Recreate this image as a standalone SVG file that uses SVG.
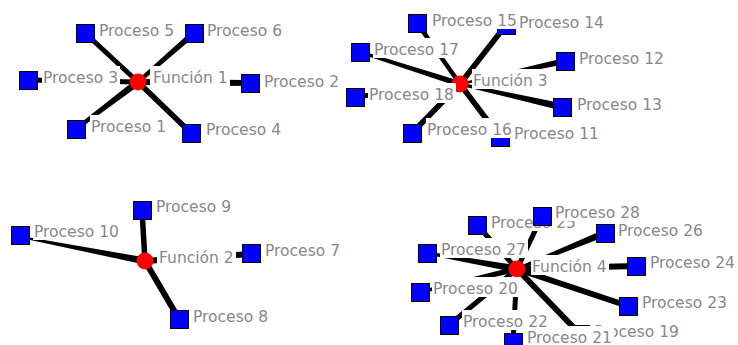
<svg xmlns="http://www.w3.org/2000/svg" width="738" height="345" viewBox="0 0 738 345">
<style>
.sq{fill:#0000ff;stroke:#000;stroke-width:1}
.fn{fill:#ff0000}
.bg{fill:#fff}
.lb{font-family:'DejaVu Sans','Noto Sans',sans-serif;font-size:15.5px;fill:#888}
.e{stroke:#000;fill:none;stroke-linecap:butt}
.w{fill:#000}
</style>
<rect width="738" height="345" fill="#fff"/>
<g id="connectors">
<line class="e" x1="138" y1="82" x2="85" y2="33" stroke-width="5"/>
<polygon class="w" points="139.32,83.51 195.98,35.26 192.02,30.74 136.68,80.49"/>
<line class="e" x1="138" y1="82" x2="28" y2="80" stroke-width="5"/>
<line class="e" x1="138" y1="82" x2="250" y2="83" stroke-width="6"/>
<polygon class="w" points="135.89,79.21 74.79,127.41 77.21,130.59 140.11,84.79"/>
<line class="e" x1="138" y1="82" x2="191" y2="133" stroke-width="5.5"/>
<line class="e" x1="460" y1="84" x2="417" y2="23" stroke-width="4.5"/>
<line class="e" x1="460" y1="84" x2="506" y2="25" stroke-width="5.5"/>
<polygon class="w" points="460.91,81.14 360.46,50.57 359.54,53.43 459.09,86.86"/>
<line class="e" x1="460" y1="84" x2="355" y2="97" stroke-width="5"/>
<line class="e" x1="460" y1="84" x2="412" y2="133" stroke-width="5.5"/>
<line class="e" x1="460" y1="84" x2="500" y2="137" stroke-width="5.5"/>
<polygon class="w" points="460.21,84.98 565.64,63.93 564.36,58.07 459.79,83.02"/>
<polygon class="w" points="459.67,85.46 561.23,110.41 562.77,103.59 460.33,82.54"/>
<line class="e" x1="145" y1="261" x2="142" y2="210" stroke-width="5.5"/>
<polygon class="w" points="145.67,257.56 21.19,236.02 20.81,237.98 144.34,264.44"/>
<line class="e" x1="145" y1="261" x2="251" y2="254" stroke-width="6"/>
<line class="e" x1="145" y1="261" x2="179" y2="319" stroke-width="6"/>
<line class="e" x1="517" y1="269" x2="477" y2="225" stroke-width="5"/>
<line class="e" x1="517" y1="269" x2="542" y2="216" stroke-width="5"/>
<polygon class="w" points="517.57,270.39 606.33,236.24 603.68,229.76 516.43,267.61"/>
<polygon class="w" points="517.61,265.55 427.26,251.52 426.74,254.48 516.39,272.45"/>
<line class="e" x1="517" y1="269" x2="636" y2="266" stroke-width="6"/>
<polygon class="w" points="516.31,266.08 419.65,290.54 420.35,293.46 517.69,271.92"/>
<line class="e" x1="517" y1="269" x2="628" y2="306" stroke-width="6"/>
<line class="e" x1="517" y1="269" x2="449" y2="325" stroke-width="5"/>
<line class="e" x1="517" y1="269" x2="513" y2="342" stroke-width="5"/>
<line class="e" x1="517" y1="269" x2="580" y2="334" stroke-width="6"/>
</g>
<g id="funcion1"><circle class="fn" cx="138" cy="82" r="8.5"/><rect class="bg" x="150" y="66" width="80" height="20"/><text class="lb" x="153" y="83">Función 1</text></g>
<g id="funcion2"><circle class="fn" cx="145" cy="261" r="8.5"/><rect class="bg" x="157" y="246" width="79" height="20"/><text class="lb" x="159" y="263">Función 2</text></g>
<g id="funcion3"><circle class="fn" cx="460" cy="84" r="8.5"/><rect class="bg" x="472" y="69" width="78" height="20"/><text class="lb" x="473" y="86">Función 3</text></g>
<g id="funcion4"><circle class="fn" cx="517" cy="269" r="8.5"/><rect class="bg" x="531" y="255" width="78" height="20"/><text class="lb" x="532" y="272">Función 4</text></g>
<g id="proceso1"><rect class="sq" x="67.5" y="120.5" width="18" height="18"/><rect class="bg" x="90" y="115" width="78" height="20"/><text class="lb" x="91" y="132">Proceso 1</text></g>
<g id="proceso2"><rect class="sq" x="241.5" y="74.5" width="18" height="18"/><rect class="bg" x="263" y="70" width="78" height="20"/><text class="lb" x="264" y="87">Proceso 2</text></g>
<g id="proceso3"><rect class="sq" x="19.5" y="71.5" width="18" height="18"/><rect class="bg" x="42" y="66" width="78" height="20"/><text class="lb" x="43" y="83">Proceso 3</text></g>
<g id="proceso4"><rect class="sq" x="182.5" y="124.5" width="18" height="18"/><rect class="bg" x="205" y="118" width="78" height="20"/><text class="lb" x="206" y="135">Proceso 4</text></g>
<g id="proceso5"><rect class="sq" x="76.5" y="24.5" width="18" height="18"/><rect class="bg" x="98" y="19" width="78" height="20"/><text class="lb" x="99" y="36">Proceso 5</text></g>
<g id="proceso6"><rect class="sq" x="185.5" y="24.5" width="18" height="18"/><rect class="bg" x="206" y="19" width="78" height="20"/><text class="lb" x="207" y="36">Proceso 6</text></g>
<g id="proceso7"><rect class="sq" x="242.5" y="244.5" width="18" height="18"/><rect class="bg" x="264" y="239" width="78" height="20"/><text class="lb" x="265" y="256">Proceso 7</text></g>
<g id="proceso8"><rect class="sq" x="170.5" y="310.5" width="18" height="18"/><rect class="bg" x="192" y="305" width="78" height="20"/><text class="lb" x="193" y="322">Proceso 8</text></g>
<g id="proceso9"><rect class="sq" x="133.5" y="201.5" width="18" height="18"/><rect class="bg" x="155" y="195" width="78" height="20"/><text class="lb" x="156" y="212">Proceso 9</text></g>
<g id="proceso10"><rect class="sq" x="11.5" y="226.5" width="18" height="18"/><rect class="bg" x="33" y="220" width="88" height="20"/><text class="lb" x="34" y="237">Proceso 10</text></g>
<g id="proceso11"><rect class="sq" x="491.5" y="128.5" width="18" height="18"/><rect class="bg" x="513" y="122" width="88" height="20"/><text class="lb" x="514" y="139">Proceso 11</text></g>
<g id="proceso12"><rect class="sq" x="556.5" y="52.5" width="18" height="18"/><rect class="bg" x="578" y="47" width="88" height="20"/><text class="lb" x="579" y="64">Proceso 12</text></g>
<g id="proceso13"><rect class="sq" x="553.5" y="98.5" width="18" height="18"/><rect class="bg" x="576" y="93" width="88" height="20"/><text class="lb" x="577" y="110">Proceso 13</text></g>
<g id="proceso14"><rect class="sq" x="497.5" y="16.5" width="18" height="18"/><rect class="bg" x="518" y="11" width="88" height="20"/><text class="lb" x="519" y="28">Proceso 14</text></g>
<g id="proceso15"><rect class="sq" x="408.5" y="14.5" width="18" height="18"/><rect class="bg" x="431" y="9" width="88" height="20"/><text class="lb" x="432" y="26">Proceso 15</text></g>
<g id="proceso16"><rect class="sq" x="403.5" y="124.5" width="18" height="18"/><rect class="bg" x="426" y="118" width="88" height="20"/><text class="lb" x="427" y="135">Proceso 16</text></g>
<g id="proceso17"><rect class="sq" x="351.5" y="43.5" width="18" height="18"/><rect class="bg" x="373" y="38" width="88" height="20"/><text class="lb" x="374" y="55">Proceso 17</text></g>
<g id="proceso18"><rect class="sq" x="346.5" y="88.5" width="18" height="18"/><rect class="bg" x="368" y="83" width="88" height="20"/><text class="lb" x="369" y="100">Proceso 18</text></g>
<g id="proceso19"><rect class="sq" x="571.5" y="325.5" width="18" height="18"/><rect class="bg" x="593" y="320" width="88" height="20"/><text class="lb" x="594" y="337">Proceso 19</text></g>
<g id="proceso20"><rect class="sq" x="411.5" y="283.5" width="18" height="18"/><rect class="bg" x="432" y="277" width="88" height="20"/><text class="lb" x="433" y="294">Proceso 20</text></g>
<g id="proceso21"><rect class="sq" x="504.5" y="333.5" width="18" height="18"/><rect class="bg" x="526" y="326" width="88" height="20"/><text class="lb" x="527" y="343">Proceso 21</text></g>
<g id="proceso22"><rect class="sq" x="440.5" y="316.5" width="18" height="18"/><rect class="bg" x="462" y="310" width="88" height="20"/><text class="lb" x="463" y="327">Proceso 22</text></g>
<g id="proceso23"><rect class="sq" x="619.5" y="297.5" width="18" height="18"/><rect class="bg" x="641" y="291" width="88" height="20"/><text class="lb" x="642" y="308">Proceso 23</text></g>
<g id="proceso24"><rect class="sq" x="627.5" y="257.5" width="18" height="18"/><rect class="bg" x="649" y="251" width="88" height="20"/><text class="lb" x="650" y="268">Proceso 24</text></g>
<g id="proceso25"><rect class="sq" x="468.5" y="216.5" width="18" height="18"/><rect class="bg" x="490" y="211" width="88" height="20"/><text class="lb" x="491" y="228">Proceso 25</text></g>
<g id="proceso26"><rect class="sq" x="596.5" y="224.5" width="18" height="18"/><rect class="bg" x="617" y="219" width="88" height="20"/><text class="lb" x="618" y="236">Proceso 26</text></g>
<g id="proceso27"><rect class="sq" x="418.5" y="244.5" width="18" height="18"/><rect class="bg" x="440" y="238" width="88" height="20"/><text class="lb" x="441" y="255">Proceso 27</text></g>
<g id="proceso28"><rect class="sq" x="533.5" y="207.5" width="18" height="18"/><rect class="bg" x="554" y="201" width="88" height="20"/><text class="lb" x="555" y="218">Proceso 28</text></g>
</svg>
